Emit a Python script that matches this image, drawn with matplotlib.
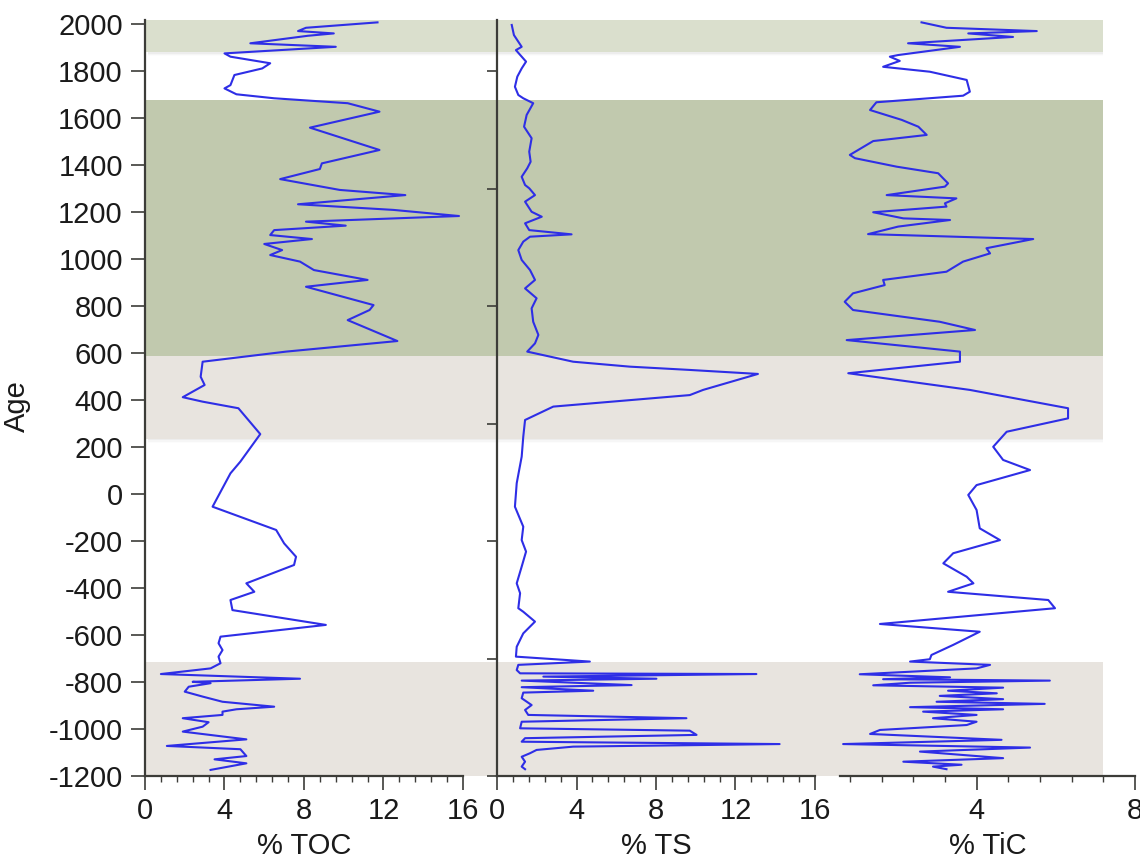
import matplotlib
matplotlib.use("Agg")
import matplotlib.pyplot as plt
from matplotlib.ticker import MultipleLocator, FixedLocator

plt.rcParams['font.family'] = ['Liberation Sans', 'DejaVu Sans']
plt.rcParams['axes.unicode_minus'] = False

# sediment core profiles, age (yr AD/BC) vs. percent
toc_age = [2007, 1984, 1970, 1960, 1950, 1918, 1903, 1875, 1861, 1833,
           1811, 1783, 1740, 1726, 1701, 1684, 1663, 1627, 1559, 1464,
           1407, 1383, 1340, 1294, 1272, 1233, 1209, 1183, 1159, 1142,
           1123, 1102, 1085, 1064, 1038, 1017, 989, 953, 911, 882,
           804, 783, 740, 651, 606, 563, 499, 464, 412, 393,
           365, 255, 138, 88, -54, -153, -210, -267, -302, -380,
           -416, -451, -494, -557, -607, -635, -664, -692, -720, -742,
           -766, -786, -799, -805, -820, -841, -862, -884, -905, -916,
           -926, -940, -954, -971, -990, -1011, -1044, -1072, -1086, -1115,
           -1129, -1146, -1174]
toc = [11.7, 8.1, 7.7, 9.5, 8.2, 5.3, 9.6, 4.0, 4.3, 6.3,
       5.9, 4.5, 4.3, 4.0, 4.6, 6.5, 10.2, 11.8, 8.3, 11.8,
       8.9, 8.8, 6.8, 9.8, 13.1, 7.7, 12.5, 15.8, 8.1, 10.1,
       6.5, 6.3, 8.4, 6.0, 6.9, 6.3, 7.8, 8.5, 11.2, 8.1,
       11.5, 11.3, 10.2, 12.7, 7.1, 2.9, 2.8, 3.0, 1.9, 2.9,
       4.7, 5.8, 4.8, 4.3, 3.4, 6.6, 7.0, 7.6, 7.5, 5.1,
       5.5, 4.3, 4.4, 9.1, 3.8, 3.7, 3.9, 3.7, 3.8, 3.3,
       0.8, 7.8, 2.4, 3.3, 2.2, 2.0, 2.9, 3.9, 6.5, 4.6,
       3.9, 3.9, 1.9, 3.2, 2.9, 1.9, 5.1, 1.1, 4.8, 5.1,
       3.5, 5.1, 3.3]

ts_age = [1996, 1953, 1903, 1889, 1840, 1811, 1776, 1733, 1698, 1684,
          1663, 1613, 1563, 1514, 1457, 1414, 1386, 1350, 1315, 1301,
          1272, 1244, 1201, 1180, 1152, 1123, 1105, 1095, 1074, 1038,
          996, 953, 911, 875, 833, 790, 733, 677, 641, 606,
          563, 542, 528, 511, 443, 421, 372, 315, 244, 159,
          46, -54, -139, -196, -245, -309, -380, -422, -486, -501,
          -543, -593, -650, -692, -713, -727, -749, -763, -766, -777,
          -786, -794, -813, -822, -837, -845, -869, -898, -919, -940,
          -954, -969, -997, -1007, -1025, -1039, -1054, -1064, -1075, -1089,
          -1103, -1118, -1139, -1160, -1171]
ts = [0.74, 0.85, 1.24, 0.95, 1.46, 1.24, 1.02, 0.90, 1.07, 1.32,
      1.82, 1.49, 1.36, 1.74, 1.62, 1.69, 1.52, 1.24, 1.41, 1.62,
      1.91, 1.41, 1.74, 2.25, 1.41, 1.62, 3.75, 1.66, 1.32, 1.07,
      1.24, 1.66, 1.91, 1.41, 1.99, 1.74, 1.82, 2.08, 1.91, 1.52,
      3.83, 6.68, 9.70, 13.13, 10.37, 9.70, 2.83, 1.41, 1.32, 1.24,
      0.99, 0.90, 1.32, 1.24, 1.46, 1.24, 0.99, 1.16, 1.07, 1.32,
      1.91, 1.32, 0.99, 0.95, 4.67, 1.07, 0.99, 1.16, 13.05, 2.33,
      8.02, 1.24, 6.77, 1.24, 4.84, 1.32, 1.24, 1.74, 1.41, 1.57,
      9.53, 1.24, 1.16, 9.70, 10.04, 1.41, 1.24, 14.22, 3.83, 1.99,
      1.66, 1.24, 1.41, 1.24, 1.41]

tic_age = [2007, 1984, 1970, 1960, 1945, 1918, 1903, 1868, 1861, 1843,
           1818, 1797, 1762, 1712, 1695, 1667, 1634, 1592, 1563, 1528,
           1502, 1443, 1429, 1393, 1365, 1322, 1308, 1272, 1258, 1237,
           1223, 1199, 1173, 1166, 1138, 1106, 1085, 1046, 1024, 989,
           946, 911, 889, 854, 818, 783, 733, 698, 655, 606,
           563, 514, 443, 365, 322, 265, 201, 145, 102, 38,
           -4, -68, -146, -196, -252, -295, -352, -380, -416, -451,
           -486, -553, -586, -642, -685, -703, -713, -727, -742, -767,
           -780, -788, -794, -803, -814, -824, -837, -848, -859, -873,
           -884, -893, -907, -916, -926, -940, -954, -969, -983, -1004,
           -1021, -1046, -1064, -1079, -1096, -1124, -1139, -1152, -1160, -1171]
tic = [2.61, 3.24, 5.52, 3.79, 4.92, 2.27, 3.58, 2.02, 1.81, 2.06,
       1.64, 2.82, 3.75, 3.83, 3.66, 1.47, 1.31, 2.11, 2.53, 2.74,
       1.39, 0.80, 0.93, 1.98, 3.03, 3.28, 3.20, 1.73, 3.49, 3.20,
       3.24, 1.39, 2.15, 3.33, 2.02, 1.26, 5.43, 4.25, 4.34, 3.66,
       3.24, 1.64, 1.68, 0.88, 0.67, 0.88, 3.07, 3.96, 0.72, 3.58,
       3.58, 0.76, 3.83, 6.31, 6.31, 4.76, 4.42, 4.67, 5.35, 4.00,
       3.79, 4.00, 4.08, 4.59, 3.41, 3.16, 3.75, 3.92, 3.28, 5.81,
       5.98, 1.56, 4.08, 3.41, 2.86, 2.82, 2.32, 4.34, 4.00, 1.05,
       3.33, 1.64, 5.85, 2.32, 1.39, 4.67, 3.28, 4.51, 3.07, 4.67,
       2.99, 5.72, 2.32, 4.67, 2.65, 4.00, 2.90, 4.00, 3.75, 1.56,
       1.31, 4.63, 0.63, 5.35, 2.57, 4.67, 2.15, 3.62, 2.90, 3.24]

# shaded intervals (bottom, top, colour)
band_lo = [1880, 588, 235, -1200]
band_hi = [2017, 1677, 588, -715]
band_col = ['#dadfcd', '#c1c9ae', '#e8e4df', '#e8e4df']

ylim = (-1200, 2015)
line_col = '#2e2ee6'
spine_col = '#3c3c38'
fs = 21

fig = plt.figure(figsize=(11.4, 8.61), dpi=100)
bottom, height = 0.0987, 0.8775

bg = fig.add_axes([0.1272, bottom, 0.8404, height])
bg.set_ylim(*ylim)
bg.set_xlim(0, 1)
bg.axis('off')
for lo, hi, c in zip(band_lo, band_hi, band_col):
    # faint drop shadow under each band
    for k, a in enumerate([0.06, 0.04, 0.02]):
        bg.axhspan(lo - 6 * (k + 1), hi - 6 * (k + 1), xmin=0.003, xmax=1.0 + 0.002 * (k + 1),
                   color='#707070', alpha=a, lw=0, zorder=0)
    bg.axhspan(lo, hi, color=c, lw=0, zorder=1)

ax1 = fig.add_axes([0.1272, bottom, 0.2789, height])
ax2 = fig.add_axes([0.4360, bottom, 0.2789, height])
ax3 = fig.add_axes([0.7368, bottom, 0.2588, height])

for ax, x, y, lab in [(ax1, toc, toc_age, '% TOC'),
                      (ax2, ts, ts_age, '% TS'),
                      (ax3, tic, tic_age, '% TiC')]:
    ax.patch.set_alpha(0)
    ax.plot(x, y, color=line_col, lw=1.5, solid_joinstyle='round')
    ax.set_ylim(*ylim)
    ax.spines['top'].set_visible(False)
    ax.spines['right'].set_visible(False)
    ax.spines['bottom'].set_color(spine_col)
    ax.spines['bottom'].set_linewidth(1.6)
    ax.spines['left'].set_color(spine_col)
    ax.spines['left'].set_linewidth(1.6)
    ax.xaxis.set_major_locator(MultipleLocator(4))
    ax.xaxis.set_minor_locator(MultipleLocator(0.8))
    ax.tick_params(axis='x', which='major', length=10, width=1.2, pad=5,
                   labelsize=fs, color=spine_col, labelcolor='#1a1a1a')
    ax.tick_params(axis='x', which='minor', length=4, width=1.0, color=spine_col)
    ax.set_xlabel(lab, fontsize=fs, color='#1a1a1a', labelpad=5)

ax1.set_xlim(0, 16)
ax2.set_xlim(0, 16)
ax3.set_xlim(0.55, 8)

ax1.yaxis.set_major_locator(MultipleLocator(200))
ax1.tick_params(axis='y', length=10, width=1.2, pad=6, labelsize=fs,
                color=spine_col, labelcolor='#1a1a1a')
ax1.set_ylabel('Age', fontsize=fs, color='#1a1a1a')
ax1.yaxis.set_label_coords(-0.36, 0.49)

ax2.yaxis.set_major_locator(FixedLocator(list(range(-1200, 2001, 500))))
ax2.tick_params(axis='y', length=7, width=1.2, labelleft=False, color=spine_col)

ax3.spines['left'].set_visible(False)
ax3.tick_params(axis='y', left=False, labelleft=False)

fig.savefig('out.png', dpi=100)
